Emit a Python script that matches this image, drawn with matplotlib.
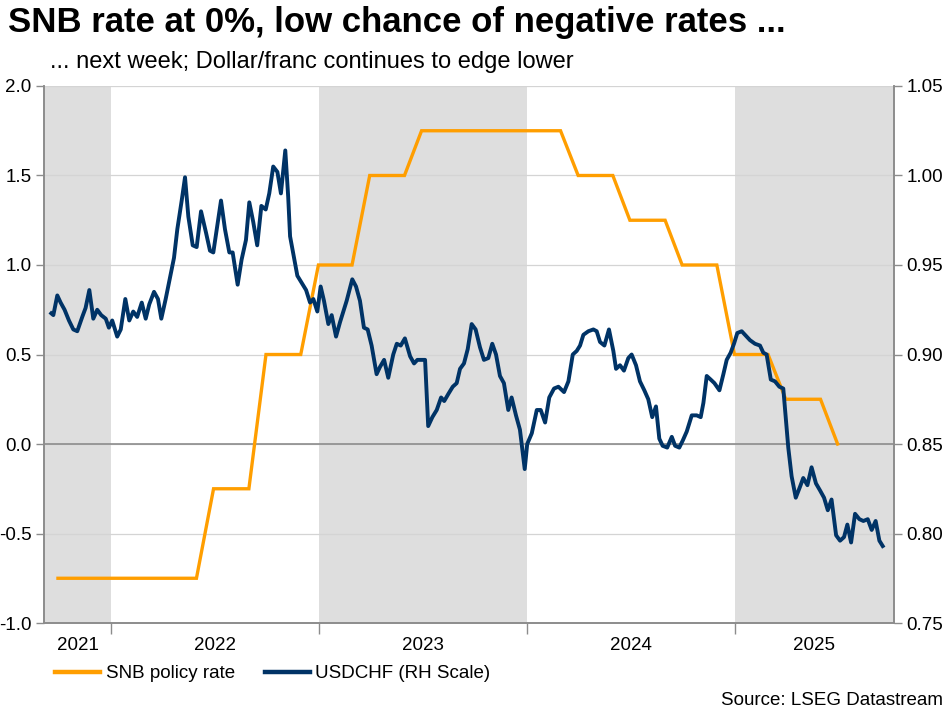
import numpy as np
import pandas as pd
import matplotlib
matplotlib.use("Agg")
import matplotlib.pyplot as plt
import matplotlib.transforms as mtransforms
from matplotlib.lines import Line2D

plt.rcParams["font.family"] = ["Liberation Sans", "DejaVu Sans"]

# SNB policy rate, month-end, Sep 2021 .. Jun 2025
snb_dates = pd.date_range("2021-09-30", "2025-06-30", freq="ME")
snb_rate = ([-0.75] * 9            # Sep 21 - May 22
            + [-0.25] * 3          # Jun - Aug 22
            + [0.5] * 3            # Sep - Nov 22
            + [1.0] * 3            # Dec 22 - Feb 23
            + [1.5] * 3            # Mar - May 23
            + [1.75] * 9           # Jun 23 - Feb 24
            + [1.5] * 3            # Mar - May 24
            + [1.25] * 3           # Jun - Aug 24
            + [1.0] * 3            # Sep - Nov 24
            + [0.5] * 3            # Dec 24 - Feb 25
            + [0.25] * 3           # Mar - May 25
            + [0.0])               # Jun 25

# USDCHF weekly (decimal year, level)
usdchf_t = [
    2021.713, 2021.723, 2021.742, 2021.758, 2021.777, 2021.798, 2021.819, 2021.838, 2021.862, 2021.878,
    2021.896, 2021.915, 2021.934, 2021.953, 2021.975, 2021.990, 2022.006, 2022.030, 2022.047, 2022.069,
    2022.088, 2022.107, 2022.126, 2022.148, 2022.167, 2022.184, 2022.207, 2022.226, 2022.242, 2022.263,
    2022.284, 2022.303, 2022.319, 2022.340, 2022.356, 2022.372, 2022.393, 2022.412, 2022.433, 2022.457,
    2022.476, 2022.492, 2022.529, 2022.548, 2022.569, 2022.585, 2022.609, 2022.628, 2022.649, 2022.665,
    2022.684, 2022.703, 2022.723, 2022.744, 2022.761, 2022.780, 2022.800, 2022.817, 2022.838, 2022.852,
    2022.861, 2022.877, 2022.896, 2022.917, 2022.938, 2022.957, 2022.973, 2022.992, 2023.008, 2023.024,
    2023.045, 2023.061, 2023.082, 2023.101, 2023.133, 2023.160, 2023.178, 2023.197, 2023.216, 2023.234,
    2023.253, 2023.277, 2023.293, 2023.313, 2023.333, 2023.357, 2023.374, 2023.393, 2023.413, 2023.438,
    2023.457, 2023.473, 2023.499, 2023.510, 2023.525, 2023.545, 2023.566, 2023.587, 2023.602, 2023.622,
    2023.643, 2023.662, 2023.678, 2023.697, 2023.715, 2023.734, 2023.753, 2023.774, 2023.793, 2023.814,
    2023.833, 2023.851, 2023.870, 2023.889, 2023.910, 2023.926, 2023.947, 2023.966, 2023.989, 2024.001,
    2024.023, 2024.047, 2024.066, 2024.087, 2024.107, 2024.130, 2024.151, 2024.178, 2024.199, 2024.220,
    2024.239, 2024.255, 2024.271, 2024.295, 2024.319, 2024.335, 2024.351, 2024.372, 2024.394, 2024.415,
    2024.428, 2024.447, 2024.466, 2024.487, 2024.503, 2024.524, 2024.543, 2024.564, 2024.583, 2024.602,
    2024.620, 2024.636, 2024.652, 2024.674, 2024.696, 2024.712, 2024.732, 2024.749, 2024.768, 2024.792,
    2024.816, 2024.835, 2024.848, 2024.864, 2024.883, 2024.901, 2024.925, 2024.944, 2024.960, 2024.979,
    2024.995, 2025.011, 2025.032, 2025.048, 2025.072, 2025.096, 2025.120, 2025.136, 2025.152, 2025.172,
    2025.192, 2025.213, 2025.232, 2025.256, 2025.272, 2025.292, 2025.312, 2025.328, 2025.348, 2025.368,
    2025.389, 2025.409, 2025.428, 2025.446, 2025.464, 2025.486, 2025.505, 2025.524, 2025.540, 2025.558,
    2025.577, 2025.598, 2025.617, 2025.638, 2025.657, 2025.676, 2025.694, 2025.710,
]
usdchf = [
    0.923, 0.922, 0.933, 0.929, 0.925, 0.919, 0.914, 0.913, 0.921, 0.926,
    0.936, 0.920, 0.925, 0.922, 0.920, 0.915, 0.919, 0.910, 0.914, 0.931,
    0.919, 0.924, 0.921, 0.929, 0.920, 0.928, 0.935, 0.931, 0.920, 0.931,
    0.943, 0.954, 0.970, 0.986, 0.999, 0.977, 0.961, 0.960, 0.980, 0.968,
    0.958, 0.957, 0.986, 0.970, 0.957, 0.957, 0.939, 0.953, 0.964, 0.985,
    0.974, 0.961, 0.983, 0.981, 0.990, 1.005, 1.002, 0.990, 1.014, 0.988,
    0.966, 0.956, 0.944, 0.940, 0.936, 0.929, 0.931, 0.924, 0.938, 0.930,
    0.917, 0.922, 0.910, 0.918, 0.930, 0.942, 0.938, 0.930, 0.915, 0.914,
    0.905, 0.889, 0.893, 0.897, 0.887, 0.900, 0.906, 0.905, 0.909, 0.899,
    0.895, 0.897, 0.897, 0.897, 0.860, 0.865, 0.869, 0.876, 0.874, 0.878,
    0.882, 0.884, 0.892, 0.895, 0.903, 0.917, 0.914, 0.904, 0.897, 0.898,
    0.906, 0.900, 0.888, 0.884, 0.869, 0.876, 0.866, 0.858, 0.836, 0.850,
    0.856, 0.869, 0.869, 0.862, 0.876, 0.881, 0.882, 0.879, 0.885, 0.900,
    0.902, 0.905, 0.911, 0.913, 0.914, 0.913, 0.907, 0.905, 0.914, 0.902,
    0.892, 0.894, 0.891, 0.898, 0.900, 0.894, 0.885, 0.880, 0.875, 0.865,
    0.871, 0.853, 0.849, 0.848, 0.854, 0.849, 0.848, 0.852, 0.857, 0.866,
    0.866, 0.865, 0.873, 0.888, 0.886, 0.884, 0.880, 0.889, 0.897, 0.901,
    0.906, 0.912, 0.913, 0.911, 0.908, 0.906, 0.905, 0.901, 0.900, 0.886,
    0.885, 0.882, 0.881, 0.848, 0.832, 0.820, 0.826, 0.831, 0.827, 0.837,
    0.828, 0.824, 0.820, 0.813, 0.819, 0.799, 0.796, 0.798, 0.805, 0.795,
    0.811, 0.808, 0.807, 0.808, 0.802, 0.807, 0.796, 0.793,
]

years = [2021, 2022, 2023, 2024, 2025]
shaded_years = [2021, 2023, 2025]
x_start, x_end = 2021.678, 2025.764

ORANGE = "#FF9E00"
NAVY = "#003366"
FS = 13.5


def dec_year(dates):
    d = pd.DatetimeIndex(dates)
    start = pd.to_datetime(d.year.astype(str) + "-01-01")
    length = np.where(d.is_leap_year, 366.0, 365.0)
    return d.year + (d - start).days.values / length


fig = plt.figure(figsize=(9.5, 7.13), dpi=100)
ax = fig.add_axes([0.0463, 0.1262, 0.8947, 0.7532])
ax2 = ax.twinx()

# shaded years
for y in shaded_years:
    ax.axvspan(max(y, x_start), min(y + 1, x_end), color="#DEDEDE", lw=0, zorder=0)

ax.set_xlim(x_start, x_end)
ax.set_ylim(-1.0, 2.0)
ax.set_yticks(np.arange(-1.0, 2.01, 0.5))
ax.set_yticklabels([f"{v:.1f}" for v in np.arange(-1.0, 2.01, 0.5)])
for v in np.arange(-0.5, 2.01, 0.5):
    ax.axhline(v, color="#D4D4D4", lw=0.9, zorder=1)
ax.axhline(0, color="#8C8C8C", lw=1.2, zorder=1.5)

ax.plot(dec_year(snb_dates), snb_rate, color=ORANGE, lw=2.4, zorder=3,
        solid_joinstyle="miter")

ax2.set_ylim(0.75, 1.05)
ax2.set_yticks(np.arange(0.75, 1.051, 0.05))
ax2.set_yticklabels([f"{v:.2f}" for v in np.arange(0.75, 1.051, 0.05)])
ax2.plot(usdchf_t, usdchf, color=NAVY, lw=2.8, zorder=4, solid_joinstyle="round")

for a in (ax, ax2):
    a.spines["top"].set_visible(False)
    for s in ("left", "right", "bottom"):
        a.spines[s].set_color("#8C8C8C")
        a.spines[s].set_linewidth(1.2)
    a.tick_params(axis="y", colors="#8C8C8C", labelcolor="black",
                  labelsize=FS, length=6, width=1.0, pad=3)

# x axis: ticks at year boundaries, labels centred between them
ax.set_xticks(years[1:])
ax.set_xticklabels([])
ax.tick_params(axis="x", colors="#8C8C8C", length=8, width=1.0, direction="out")
trans = mtransforms.blended_transform_factory(ax.transData, ax.transAxes)
for y in years:
    lo, hi = max(y, x_start), min(y + 1, x_end)
    ax.text((lo + hi) / 2, -0.041, str(y), transform=trans, ha="center",
            va="center", fontsize=FS)

fig.text(0.008, 0.968, "SNB rate at 0%, low chance of negative rates ...",
         fontsize=25, fontweight="bold", ha="left", va="center")
fig.text(0.053, 0.913, "... next week; Dollar/franc continues to edge lower",
         fontsize=17, ha="left", va="center")

handles = [Line2D([], [], color=ORANGE, lw=3.2),
           Line2D([], [], color=NAVY, lw=3.2)]
fig.legend(handles, ["SNB policy rate", "USDCHF (RH Scale)"], ncol=2,
           loc="center left", bbox_to_anchor=(0.058, 0.055), frameon=False,
           fontsize=FS, handlelength=2.4, handletextpad=0.3, columnspacing=1.6,
           borderpad=0.0, borderaxespad=0.0)

fig.text(0.993, 0.018, "Source: LSEG Datastream", fontsize=FS,
         ha="right", va="center")

fig.savefig("out.png", dpi=100)
